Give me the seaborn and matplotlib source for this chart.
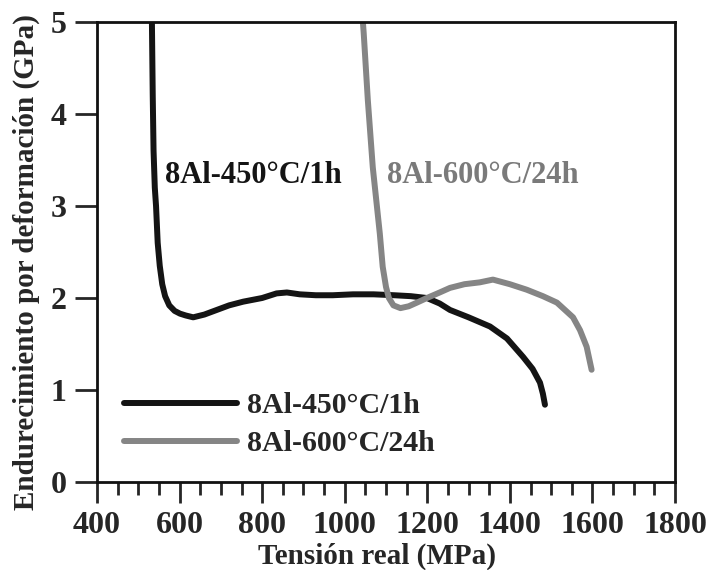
import matplotlib
matplotlib.use("Agg")
import matplotlib.pyplot as plt
from matplotlib.ticker import MultipleLocator
import seaborn as sns
import pandas as pd

# Data
x_450 = [533, 535, 537, 540, 543, 547, 552, 558, 565, 575, 588, 601, 615, 633, 660, 690, 720, 754, 800, 835, 860, 891, 930, 971, 1020, 1070, 1120, 1160, 1199, 1230, 1255, 1300, 1352, 1393, 1432, 1455, 1473, 1480, 1485]
y_450 = [5.0, 4.2, 3.6, 3.2, 3.0, 2.6, 2.35, 2.15, 2.02, 1.92, 1.86, 1.83, 1.81, 1.79, 1.82, 1.87, 1.92, 1.96, 2.0, 2.05, 2.06, 2.04, 2.03, 2.03, 2.04, 2.04, 2.03, 2.02, 2.0, 1.94, 1.87, 1.79, 1.69, 1.56, 1.36, 1.23, 1.08, 0.96, 0.84]
x_600 = [1044, 1046, 1056, 1068, 1085, 1092, 1100, 1107, 1118, 1135, 1155, 1175, 1199, 1230, 1255, 1290, 1327, 1359, 1400, 1441, 1480, 1514, 1553, 1570, 1586, 1598]
y_600 = [5.0, 4.88, 4.15, 3.42, 2.7, 2.34, 2.12, 2.0, 1.92, 1.89, 1.91, 1.95, 2.0, 2.06, 2.11, 2.15, 2.17, 2.2, 2.15, 2.09, 2.02, 1.95, 1.79, 1.65, 1.47, 1.22]

label_450 = "8Al-450°C/1h"
label_600 = "8Al-600°C/24h"
x_ticks = [400, 600, 800, 1000, 1200, 1400, 1600, 1800]
y_ticks = [0, 1, 2, 3, 4, 5]

df = pd.concat([
    pd.DataFrame({"x": x_450, "y": y_450, "serie": label_450}),
    pd.DataFrame({"x": x_600, "y": y_600, "serie": label_600}),
], ignore_index=True)

sns.set_style("ticks")
plt.rcParams['font.family'] = ['Liberation Serif', 'DejaVu Serif']

fig = plt.figure(figsize=(7.11, 5.70), dpi=100)
ax = fig.add_axes([97/711, 1-482/570, (675-97)/711, (482-22)/570])

sns.lineplot(data=df, x="x", y="y", hue="serie", estimator=None, sort=False,
             palette={label_450: "#141414", label_600: "#858585"},
             linewidth=4.3, ax=ax, legend=True)

ax.set_xlim(400, 1800)
ax.set_ylim(0, 5)
ax.set_xticks(x_ticks)
ax.set_yticks(y_ticks)
ax.xaxis.set_minor_locator(MultipleLocator(50))
ax.tick_params(axis="x", which="major", direction="out", length=15, width=2, pad=6)
ax.tick_params(axis="x", which="minor", direction="out", length=9, width=2)
ax.tick_params(axis="y", which="major", direction="out", length=16, width=2, pad=6)
for lab in ax.get_xticklabels() + ax.get_yticklabels():
    lab.set_fontweight("bold")
    lab.set_fontsize(23)
for sp in ax.spines.values():
    sp.set_linewidth(2)
    sp.set_color("#111111")
    sp.set_visible(True)

ax.set_xlabel("Tensión real (MPa)", fontsize=21, fontweight="bold")
ax.set_ylabel("Endurecimiento por deformación (GPa)", fontsize=21, fontweight="bold")
ax.xaxis.set_label_coords(0.485, -0.132)
ax.yaxis.set_label_coords(-0.098, 0.478)

ax.text(565, 3.25, label_450, fontsize=22, fontweight="bold", color="#141414", ha="left", va="baseline")
ax.text(1102, 3.25, label_600, fontsize=22, fontweight="bold", color="#7a7a7a", ha="left", va="baseline")

leg = ax.legend(loc="lower left", bbox_to_anchor=(0.0, -0.005), frameon=False,
                prop={"size": 21.5, "weight": "bold"}, handlelength=3.78,
                handletextpad=0.33, labelspacing=0.38)
for line in leg.get_lines():
    line.set_linewidth(4.3)

fig.savefig("out.png", dpi=100)
